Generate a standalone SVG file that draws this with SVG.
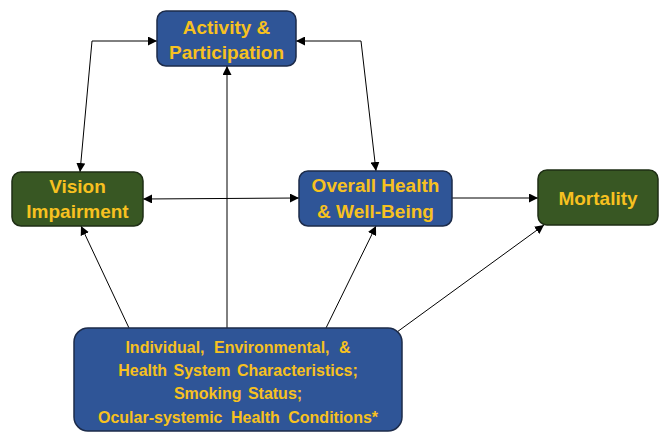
<svg xmlns="http://www.w3.org/2000/svg" width="660" height="433" viewBox="0 0 660 433">
<defs>
<marker id="ah" viewBox="0 0 10 10" refX="10" refY="5" markerWidth="9" markerHeight="9" markerUnits="userSpaceOnUse" orient="auto-start-reverse">
<path d="M0,0 L10,5 L0,10 z" fill="#000"/>
</marker>
<style>
.blue{fill:#2F5597;stroke:#1C2B4A;stroke-width:1.5}
.green{fill:#385723;stroke:#1E2E14;stroke-width:1.5}
.t{font-family:"Liberation Sans",Arial,sans-serif;font-weight:bold;font-size:19px;fill:#F7C120;text-anchor:middle}
.s{font-size:16px}
.c{fill:none;stroke:#000;stroke-width:1}
</style>
</defs>
<rect width="660" height="433" fill="#fff"/>
<g id="connectors">
<polyline class="c" points="157,41 92,41 80,172" marker-start="url(#ah)" marker-end="url(#ah)"/>
<polyline class="c" points="296,41 361,41 376,171" marker-start="url(#ah)" marker-end="url(#ah)"/>
<line class="c" x1="143" y1="199" x2="299" y2="198" marker-start="url(#ah)" marker-end="url(#ah)"/>
<line class="c" x1="227" y1="328" x2="227" y2="66" marker-end="url(#ah)"/>
<line class="c" x1="452" y1="198" x2="538" y2="198" marker-end="url(#ah)"/>
<line class="c" x1="129" y1="328" x2="81" y2="226" marker-end="url(#ah)"/>
<line class="c" x1="326" y1="328" x2="376" y2="226" marker-end="url(#ah)"/>
<line class="c" x1="397" y1="332" x2="544" y2="225" marker-end="url(#ah)"/>
</g>
<g id="activity">
<rect class="blue" x="157" y="11" width="139" height="55" rx="9"/>
<text class="t" x="226.5" y="34">Activity &amp;</text>
<text class="t" x="226.5" y="59">Participation</text>
</g>
<g id="vision">
<rect class="green" x="12" y="172" width="131" height="54" rx="9"/>
<text class="t" x="77.5" y="193">Vision</text>
<text class="t" x="77.5" y="218">Impairment</text>
</g>
<g id="overall">
<rect class="blue" x="299" y="171" width="153" height="55" rx="9"/>
<text class="t" x="375.5" y="192">Overall Health</text>
<text class="t" x="375.5" y="218">&amp; Well-Being</text>
</g>
<g id="mortality">
<rect class="green" x="538" y="170" width="120" height="55" rx="9"/>
<text class="t" x="598" y="205">Mortality</text>
</g>
<g id="factors">
<rect class="blue" x="74" y="328" width="328" height="103" rx="14"/>
<text class="t s" x="238" y="353" word-spacing="5">Individual, Environmental, &amp;</text>
<text class="t s" x="238" y="376" word-spacing="2">Health System Characteristics;</text>
<text class="t s" x="238" y="399" word-spacing="2">Smoking Status;</text>
<text class="t s" x="238" y="423" word-spacing="4">Ocular-systemic Health Conditions*</text>
</g>
</svg>
